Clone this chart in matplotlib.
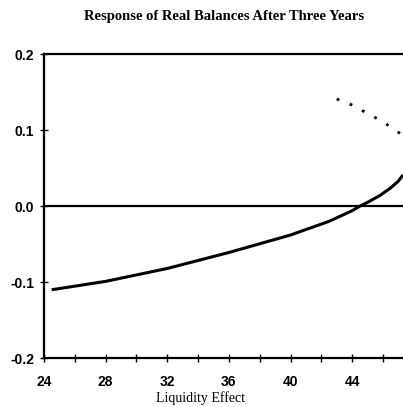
import matplotlib
matplotlib.use('Agg')
import matplotlib.pyplot as plt
from matplotlib.ticker import MultipleLocator, FormatStrFormatter

# solid branch
liq_solid = [24.5, 28, 32, 36, 40, 42.5, 44, 44.5, 45, 45.8, 46.5, 47, 47.3]
bal_solid = [-0.110, -0.099, -0.082, -0.061, -0.038, -0.020, -0.006, 0.0, 0.005,
             0.014, 0.024, 0.033, 0.041]

# dotted branch
liq_dot = [43, 44, 45, 46, 47.3]
bal_dot = [0.141, 0.133, 0.122, 0.111, 0.093]

x_ticks = [24, 28, 32, 36, 40, 44]
y_ticks = [-0.2, -0.1, 0.0, 0.1, 0.2]

fig = plt.figure(figsize=(4.03, 4.07), dpi=100)
ax = fig.add_axes([0.109, 0.120, 0.891, 0.747])

ax.plot(liq_solid, bal_solid, color='black', lw=2.2, solid_capstyle='butt')
ax.plot(liq_dot, bal_dot, color='black', lw=2.0, linestyle=(0, (1, 4)))
ax.axhline(0, color='black', lw=1.6)

ax.set_xlim(24, 47.3)
ax.set_ylim(-0.2, 0.2)
ax.set_xticks(x_ticks)
ax.xaxis.set_minor_locator(MultipleLocator(2))
ax.set_yticks(y_ticks)
ax.yaxis.set_major_formatter(FormatStrFormatter('%.1f'))

for s in ['left', 'top', 'bottom']:
    ax.spines[s].set_linewidth(1.6)
ax.spines['right'].set_visible(False)

ax.tick_params(axis='both', which='both', direction='inout', length=6, width=1)
ax.tick_params(axis='x', which='minor', length=6)
ax.tick_params(axis='x', labelsize=10, pad=9)
ax.tick_params(axis='y', labelsize=10, pad=4)
for lab in ax.get_xticklabels() + ax.get_yticklabels():
    lab.set_family('Liberation Sans')
    lab.set_fontweight('bold')

ax.set_xlabel('Liquidity Effect', family='Liberation Serif', fontsize=10)
ax.xaxis.set_label_coords(0.437, -0.11)
fig.suptitle('Response of Real Balances After Three Years', family='Liberation Serif',
             fontweight='bold', fontsize=10.5, x=0.555, y=0.975)

fig.savefig('out.png', dpi=100)
